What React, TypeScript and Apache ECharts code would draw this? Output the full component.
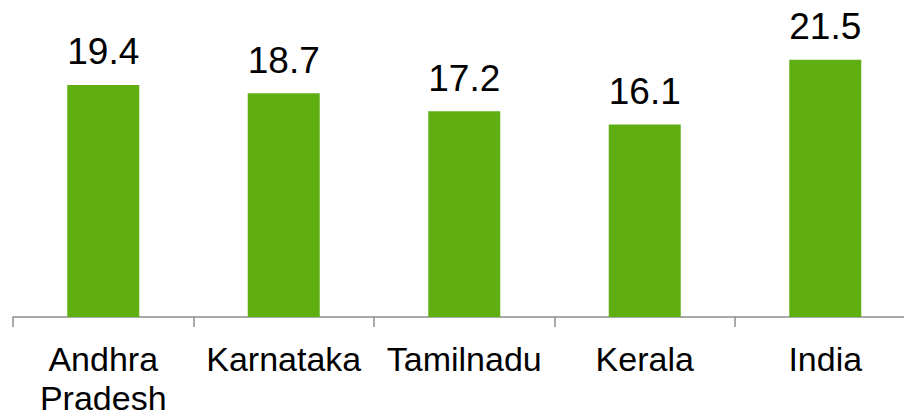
import React, { useEffect, useRef } from "react";
import * as echarts from "echarts";

const categories = ["Andhra\nPradesh", "Karnataka", "Tamilnadu", "Kerala", "India"];
const values = [19.4, 18.7, 17.2, 16.1, 21.5];

export default function App() {
  const ref = useRef<HTMLDivElement>(null);
  useEffect(() => {
    if (!ref.current) return;
    const chart = echarts.init(ref.current, undefined, { renderer: "svg" });
    chart.setOption({
      animation: false,
      backgroundColor: "#ffffff",
      grid: {
        left: 13,
        right: -11.5,
        top: 18,
        bottom: 94,
        containLabel: false,
        outerBoundsMode: "none",
      },
      xAxis: {
        type: "category",
        data: categories,
        axisLine: { show: true, lineStyle: { color: "#8c8c8c", width: 1.5 } },
        axisTick: { show: true, length: 10, lineStyle: { color: "#8c8c8c", width: 1.5 } },
        axisLabel: {
          color: "#000000",
          fontFamily: "'Liberation Sans', Arial, sans-serif",
          fontSize: 34,
          lineHeight: 39,
          margin: 22,
          interval: 0,
        },
      },
      yAxis: {
        type: "value",
        min: 0,
        max: 25,
        show: false,
        splitLine: { show: false },
      },
      series: [
        {
          type: "bar",
          data: values,
          barWidth: 72,
          itemStyle: { color: "#5FAF13" },
          label: {
            show: true,
            position: "top",
            distance: 13,
            color: "#000000",
            fontFamily: "'Liberation Sans', Arial, sans-serif",
            fontSize: 37,
            lineHeight: 40,
            formatter: (p: any) => p.value.toFixed(1),
          },
        },
      ],
    });
    return () => chart.dispose();
  }, []);
  return (
    <div
      ref={ref}
      style={{ position: "fixed", left: 0, top: 0, width: 904, height: 411 }}
    />
  );
}
